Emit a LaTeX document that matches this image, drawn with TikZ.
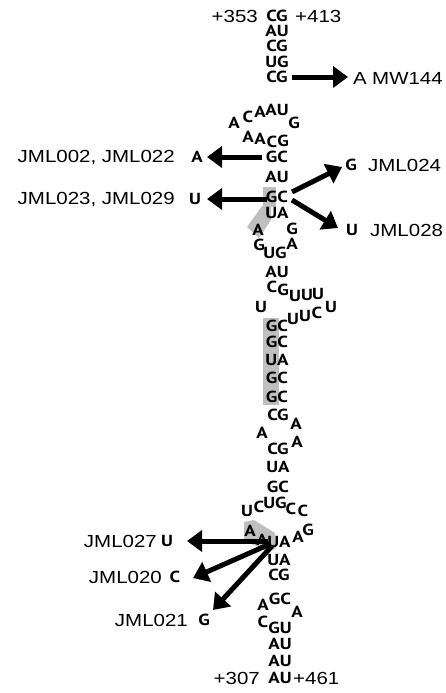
\documentclass[tikz,border=0pt]{standalone}
\usepackage{fontspec}
\usepackage{graphicx}
\usetikzlibrary{arrows.meta}
\newfontfamily\basefont{PT Sans}[FakeStretch=1.18]
\newfontfamily\labfont{Liberation Sans}
\newcommand{\lab}[1]{\scalebox{1.17}[1]{#1}}
\begin{document}
\begin{tikzpicture}[x=1pt,y=-1pt,
 nt/.style={font=\basefont\bfseries\fontsize{16}{16}\selectfont, inner sep=0pt, text height=11pt, text depth=0pt},
 lb/.style={font=\labfont\fontsize{17.5}{17.5}\selectfont, inner sep=0pt},
 mut/.style={line width=5pt,-{Triangle[length=15pt,width=21pt]}},
 shadefill/.style={fill=gray!50, draw=none}]
\useasboundingbox (0,0) rectangle (446,693);
% shaded regions
\fill[shadefill] (263,187) rectangle (276,207);
\fill[shadefill] (262,206) -- (271,206) -- (271,220) -- (259,238) -- (247,227) -- cycle;
\fill[shadefill] (263,318) rectangle (279,405);
\fill[shadefill] (244,522) -- (254,520) -- (275,533) -- (276,548) -- (268,552) -- (244,540) -- cycle;
% arrow end points
\coordinate (t1) at (292,77);  \coordinate (h1) at (348,77);
\coordinate (t2) at (262,157); \coordinate (h2) at (207,157);
\coordinate (t3) at (267,199); \coordinate (h3) at (207,199);
\coordinate (t4) at (292,192); \coordinate (h4) at (342,167);
\coordinate (t5) at (292,200); \coordinate (h5) at (338,228);
\coordinate (t6) at (268,541); \coordinate (h6) at (187,541);
\coordinate (t7) at (270,544); \coordinate (h7) at (193,578);
\coordinate (t8) at (272,546); \coordinate (h8) at (213,610);
\draw[mut] (t1) -- (h1);
\draw[mut] (t2) -- (h2);
\draw[mut] (t3) -- (h3);
\draw[mut] (t4) -- (h4);
\draw[mut] (t5) -- (h5);
\draw[mut] (t6) -- (h6);
\draw[mut] (t7) -- (h7);
\draw[mut] (t8) -- (h8);
% top stem
\node[nt] (s1) at (277,16) {CG};
\node[lb,anchor=east] (p353) at (258,16) {\lab{+353}};
\node[lb,anchor=west] (p413) at (295,16) {\lab{+413}};
\node[nt] (s2) at (277,31) {AU};
\node[nt] (s3) at (277,46) {CG};
\node[nt] (s4) at (277,62) {UG};
\node[nt] (s5) at (277,77) {CG};
\node[lb] (mA) at (360,78) {\lab{A}};
\node[lb,anchor=west] (mw) at (372,78) {\lab{MW144}};
% upper loop
\node[nt] (l1) at (234,123) {A};
\node[nt] (l2) at (248,117) {C};
\node[nt] (l3) at (260,112) {A};
\node[nt] (l4) at (277,110) {AU};
\node[nt] (l5) at (294,123) {G};
\node[nt] (l6) at (248,137) {A};
\node[nt] (l7) at (260,139) {A};
\node[nt] (l8) at (272,142) {C};
\node[nt] (l9) at (283,141) {G};
\node[nt] (s6) at (277,157) {GC};
\node[lb,anchor=east] (j002) at (175,158) {\lab{JML002, JML022}};
\node[nt] (m002) at (197,157) {A};
\node[nt] (s7) at (277,177) {AU};
\node[nt] (s8) at (277,197) {GC};
\node[lb,anchor=east] (j023) at (175,200) {\lab{JML023, JML029}};
\node[nt] (m023) at (195,199) {U};
\node[nt] (m024) at (351,165) {G};
\node[lb,anchor=west] (j024) at (368,165) {\lab{JML024}};
\node[nt] (m028) at (352,230) {U};
\node[lb,anchor=west] (j028) at (370,230) {\lab{JML028}};
\node[nt] (s9) at (277,213) {UA};
\node[nt] (b1) at (258,230) {A};
\node[nt] (b2) at (292,229) {G};
\node[nt] (b3) at (259,245) {G};
\node[nt] (b4) at (275,253) {UG};
\node[nt] (b5) at (292,244) {A};
\node[nt] (s10) at (277,272) {AU};
\node[nt] (s11c) at (272,287) {C};
\node[nt] (s11g) at (283,290) {G};
\node[nt] (u0) at (261,307) {U};
\node[nt] (u1) at (295,296) {U};
\node[nt] (u2) at (307,295) {U};
\node[nt] (u3) at (318,294) {U};
\node[nt] (u4) at (331,307) {U};
\node[nt] (u5) at (293,319) {U};
\node[nt] (u6) at (305,316) {U};
\node[nt] (u7) at (317,313) {C};
% middle stem
\node[nt] (s12) at (277,326) {GC};
\node[nt] (s13) at (277,342) {GC};
\node[nt] (s14) at (277,360) {UA};
\node[nt] (s15) at (277,378) {GC};
\node[nt] (s16) at (277,397) {GC};
\node[nt] (s17) at (278,415) {CG};
\node[nt] (i1) at (296,424) {A};
\node[nt] (i2) at (262,433) {A};
\node[nt] (i3) at (297,442) {A};
\node[nt] (s18) at (278,449) {CG};
\node[nt] (s19) at (278,467) {UA};
\node[nt] (s20) at (278,487) {GC};
% lower loop
\node[nt] (k1) at (247,511) {U};
\node[nt] (k2) at (259,507) {C};
\node[nt] (k3) at (275,503) {UG};
\node[nt] (k4) at (291,509) {C};
\node[nt] (k5) at (303,511) {C};
\node[nt] (k6) at (308,530) {G};
\node[nt] (k7) at (298,537) {A};
\node[nt] (k8) at (250,531) {A};
\node[nt] (k9) at (262,540) {A};
\node[nt] (s21) at (279,542) {UA};
\node[lb,anchor=east] (j027) at (157,541) {\lab{JML027}};
\node[nt] (m027) at (167,541) {U};
\node[lb,anchor=east] (j020) at (162,577) {\lab{JML020}};
\node[nt] (m020) at (175,577) {C};
\node[lb,anchor=east] (j021) at (188,620) {\lab{JML021}};
\node[nt] (m021) at (204,620) {G};
\node[nt] (s22) at (279,560) {UA};
\node[nt] (s23) at (279,575) {CG};
\node[nt] (q1) at (263,605) {A};
\node[nt] (q2) at (280,599) {GC};
\node[nt] (q3) at (297,612) {A};
\node[nt] (q4) at (263,622) {C};
\node[nt] (q5) at (280,628) {GU};
\node[nt] (s24) at (280,644) {AU};
\node[nt] (s25) at (280,661) {AU};
\node[nt] (s26) at (280,678) {AU};
\node[lb,anchor=east] (p307) at (260,678) {\lab{+307}};
\node[lb,anchor=west] (p461) at (293,678) {\lab{+461}};
\end{tikzpicture}
\end{document}
